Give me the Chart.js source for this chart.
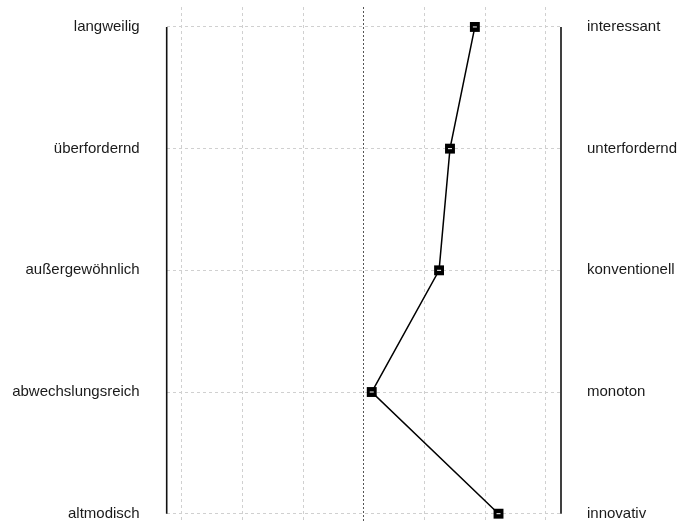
<!DOCTYPE html>
<html><head><meta charset="utf-8">
<script src="https://cdn.jsdelivr.net/npm/chart.js@4"></script>
<style>html,body{margin:0;padding:0;background:#fff;overflow:hidden}canvas{display:block}</style>
</head><body><canvas id="c" width="681" height="528" style="width:681px;height:528px"></canvas>
<script>
const leftLabels = ["langweilig","überfordernd","außergewöhnlich","abwechslungsreich","altmodisch"];
const rightLabels = ["interessant","unterfordernd","konventionell","monoton","innovativ"];
const rows = [1,2,3,4,5];
const values = [5.83,5.42,5.24,4.13,6.22];
const scaleTicks = [1,2,3,4,5,6,7];
const scaleMid = 4;
const frameX = [0.75,7.25];
const rowRange = [0.836,5.06];

const pts = values.map((v,i)=>({x:v,y:rows[i]}));
const frameLine = x => ({type:'line',data:[{x:x,y:rows[0]},{x:x,y:rows[rows.length-1]}],borderColor:'#111',borderWidth:1.6,pointRadius:0,clip:false,order:3});
const noPad = a => { a.paddingTop = 0; a.paddingBottom = 0; a.paddingLeft = 0; a.paddingRight = 0; };

new Chart(document.getElementById('c'),{
  type:'scatter',
  data:{datasets:[
    frameLine(frameX[0]), frameLine(frameX[1]),
    {type:'line',data:pts,borderColor:'#000',borderWidth:1.5,pointStyle:'rect',pointRadius:7,pointBackgroundColor:'#000',pointBorderColor:'#000',pointBorderWidth:0,clip:false,order:2},
    {type:'scatter',data:pts,pointStyle:'line',pointRadius:2,borderColor:'#fff',pointBorderColor:'#fff',pointBorderWidth:1,clip:false,order:1}
  ]},
  options:{
    responsive:false,animation:false,devicePixelRatio:1,
    layout:{padding:{top:5,bottom:0,left:0,right:0}},
    plugins:{legend:{display:false},tooltip:{enabled:false}},
    scales:{
      x:{type:'linear',min:frameX[0],max:frameX[1],
        afterBuildTicks:a=>{a.ticks=scaleTicks.map(v=>({value:v}));},
        afterFit:a=>{a.height=0; noPad(a);},
        ticks:{display:false},
        border:{display:false,dash:c=>c.tick&&c.tick.value===scaleMid?[2,2]:[3,3]},
        grid:{drawTicks:false,lineWidth:1,color:c=>c.tick&&c.tick.value===scaleMid?'#555':'#d0d0d0'}},
      y:{type:'linear',position:'left',reverse:true,min:rowRange[0],max:rowRange[1],
        afterBuildTicks:a=>{a.ticks=rows.map(v=>({value:v}));},
        afterFit:a=>{a.width=166.7; noPad(a);},
        ticks:{padding:27,color:'#1a1a1a',font:{family:'"Liberation Sans", Arial, sans-serif',size:15},callback:v=>leftLabels[v-1]},
        border:{display:false,dash:[3,3]},
        grid:{drawTicks:false,color:'#d0d0d0',lineWidth:1}},
      y2:{type:'linear',position:'right',reverse:true,min:rowRange[0],max:rowRange[1],
        afterBuildTicks:a=>{a.ticks=rows.map(v=>({value:v}));},
        afterFit:a=>{a.width=120; noPad(a);},
        ticks:{padding:26,color:'#1a1a1a',font:{family:'"Liberation Sans", Arial, sans-serif',size:15},callback:v=>rightLabels[v-1]},
        border:{display:false},
        grid:{display:false,drawTicks:false}}
    }
  }
});
</script></body></html>
